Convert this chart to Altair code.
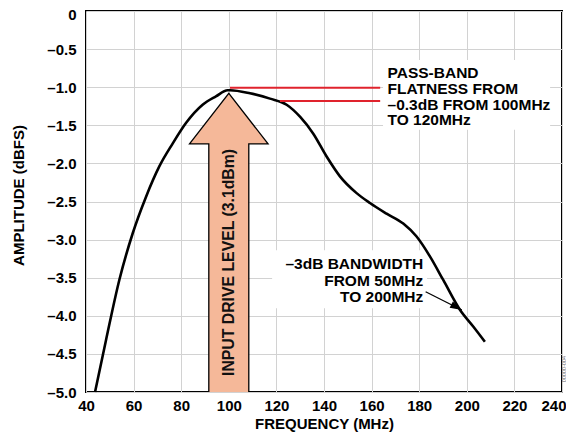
import altair as alt
import pandas as pd

# ---- data ----
freq_mhz = [43.8, 48.4, 54.0, 59.6, 65.2, 70.8, 76.4, 82.0, 89.0, 94.6, 99.5,
            100.5, 108.9, 117.3, 124.3, 130.0, 135.5, 141.1, 146.7, 153.7,
            159.3, 166.3, 173.3, 178.9, 184.5, 190.1, 197.1, 202.7, 207.6]
amplitude_dbfs = [-5.0, -4.32, -3.53, -2.92, -2.44, -2.04, -1.74, -1.47, -1.23,
                  -1.12, -1.04, -1.04, -1.08, -1.15, -1.23, -1.39, -1.61, -1.91,
                  -2.17, -2.39, -2.52, -2.66, -2.79, -2.96, -3.22, -3.53, -3.92,
                  -4.14, -4.34]

x_ticks = list(range(40, 241, 20))
y_ticks = [0, -0.5, -1.0, -1.5, -2.0, -2.5, -3.0, -3.5, -4.0, -4.5, -5.0]

passband_lines = ["PASS-BAND", "FLATNESS FROM", "–0.3dB FROM 100MHz", "TO 120MHz"]
passband_y = [-0.814, -1.021, -1.228, -1.436]
passband_x = 166.7

bandwidth_lines = ["–3dB BANDWIDTH", "FROM 50MHz", "TO 200MHz"]
bandwidth_y = [-3.326, -3.537, -3.748]
bandwidth_x = 181.7

# red leader lines (x start, x end, y)
red_x1 = [100.5, 121.5]
red_x2 = [163.6, 163.6]
red_y = [-1.007, -1.181]

# -3dB leader arrow (tail -> tip)
bw_arrow_x = [182.7, 197.9]
bw_arrow_y = [-3.684, -3.924]

# input drive level big arrow
shaft_x = [91.6, 108.4]
head_x = [83.5, 100.0, 116.5]
head_base = -1.745
head_tip = -1.08
arrow_label = "INPUT DRIVE LEVEL (3.1dBm)"

# white boxes behind annotation text
box_x1 = [164.8, 118.2]
box_x2 = [235.0, 183.3]
box_y1 = [-0.643, -3.14]
box_y2 = [-1.56, -3.90]

FONT = "Liberation Sans"
GRID = "#d2d2d2"
SALMON = "#f5b899"
RED = "#e0232d"

y_label_expr = "datum.value == 0 ? '0' : '–' + format(abs(datum.value), '.1f')"


def X(field):
    return alt.X(field, type="quantitative",
                 scale=alt.Scale(domain=[40, 240], nice=False, zero=False),
                 axis=alt.Axis(values=x_ticks, title="FREQUENCY (MHz)",
                               grid=True, gridColor=GRID, gridWidth=1,
                               ticks=False, domain=False, labelFlush=False,
                               labelAlign={"expr": "datum.value == 240 ? 'right' : 'center'"},
                               labelOffset={"expr": "datum.value == 240 ? 4 : 0"},
                               labelFont=FONT, labelFontSize=15,
                               labelFontWeight="bold", labelColor="black",
                               labelPadding=6, titleFont=FONT,
                               titleFontSize=15, titleFontWeight="bold",
                               titleColor="black", titlePadding=3))


def Y(field):
    return alt.Y(field, type="quantitative",
                 scale=alt.Scale(domain=[-5, 0], nice=False, zero=False),
                 axis=alt.Axis(values=y_ticks, title="AMPLITUDE (dBFS)",
                               labelExpr=y_label_expr,
                               labelOffset={"expr": "datum.value == 0 ? 3 : 0"},
                               grid=True, gridColor=GRID, gridWidth=1,
                               ticks=False, domain=False, labelFlush=False,
                               labelFont=FONT, labelFontSize=15,
                               labelFontWeight="bold", labelColor="black",
                               labelPadding=10, titleFont=FONT,
                               titleFontSize=15, titleFontWeight="bold",
                               titleColor="black", titlePadding=20,
                               titleY=184))


curve_df = pd.DataFrame({"f": freq_mhz, "a": amplitude_dbfs})
box_df = pd.DataFrame({"x1": box_x1, "x2": box_x2, "y1": box_y1, "y2": box_y2})
shaft_df = pd.DataFrame({"x1": [shaft_x[0]], "x2": [shaft_x[1]],
                         "y1": [-5.0], "y2": [head_base + 0.01]})
head_df = pd.DataFrame({"x": head_x, "y": [head_base, head_tip, head_base],
                        "y2": [head_base] * 3})
outline_df = pd.DataFrame({
    "x": [shaft_x[0], shaft_x[0], head_x[0], head_x[1], head_x[2], shaft_x[1], shaft_x[1]],
    "y": [-5.0, head_base, head_base, head_tip, head_base, head_base, -5.0],
    "o": list(range(7)),
})
red_df = pd.DataFrame({"x1": red_x1, "x2": red_x2, "y": red_y})
bwline_df = pd.DataFrame({"x1": [bw_arrow_x[0]], "x2": [bw_arrow_x[1]],
                          "y1": [bw_arrow_y[0]], "y2": [bw_arrow_y[1]]})
bwtip_df = pd.DataFrame({"x": [bw_arrow_x[1]], "y": [bw_arrow_y[1]]})
pass_df = pd.DataFrame({"t": passband_lines, "y": passband_y,
                        "x": [passband_x] * len(passband_lines)})
bw_df = pd.DataFrame({"t": bandwidth_lines, "y": bandwidth_y,
                      "x": [bandwidth_x] * len(bandwidth_lines)})
arrow_text_df = pd.DataFrame({"t": [arrow_label], "x": [100.0], "y": [-3.30]})

boxes = alt.Chart(box_df).mark_rect(color="white").encode(
    x=X("x1"), x2="x2", y=Y("y1"), y2="y2")

shaft = alt.Chart(shaft_df).mark_rect(color=SALMON).encode(
    x=X("x1"), x2="x2", y=Y("y1"), y2="y2")

head = alt.Chart(head_df).mark_area(color=SALMON, interpolate="linear").encode(
    x=X("x"), y=Y("y"), y2="y2")

outline = alt.Chart(outline_df).mark_line(color="black", strokeWidth=1.3).encode(
    x=X("x"), y=Y("y"), order="o:Q")

arrow_text = alt.Chart(arrow_text_df).mark_text(
    angle=270, font=FONT, fontSize=15.8, fontWeight="bold", color="#111",
    align="center", baseline="middle").encode(x=X("x"), y=Y("y"), text="t:N")

curve = alt.Chart(curve_df).mark_line(
    color="black", strokeWidth=2.6, interpolate="monotone").encode(
    x=X("f"), y=Y("a"))

red = alt.Chart(red_df).mark_rule(color=RED, strokeWidth=1.8).encode(
    x=X("x1"), x2="x2", y=Y("y"))

bwline = alt.Chart(bwline_df).mark_rule(color="black", strokeWidth=1.3).encode(
    x=X("x1"), x2="x2", y=Y("y1"), y2="y2")

bwtip = alt.Chart(bwtip_df).mark_point(
    shape="M0,0L0.3,1L-0.3,1Z", filled=True, color="black", opacity=1,
    size=560, angle=117, strokeWidth=0).encode(x=X("x"), y=Y("y"))

pass_text = alt.Chart(pass_df).mark_text(
    align="left", baseline="middle", font=FONT, fontSize=15.5,
    fontWeight="bold", color="black").encode(x=X("x"), y=Y("y"), text="t:N")

bw_text = alt.Chart(bw_df).mark_text(
    align="right", baseline="middle", font=FONT, fontSize=15.5,
    fontWeight="bold", color="black").encode(x=X("x"), y=Y("y"), text="t:N")

code_text = alt.Chart(pd.DataFrame({"t": ["00000-004"]})).mark_text(
    angle=270, font=FONT, fontSize=5.5, color="#666", align="center",
    baseline="middle").encode(x=alt.value(477.5), y=alt.value(358), text="t:N")

chart = alt.layer(
    boxes, shaft, head, outline, arrow_text, curve, red, bwline, bwtip,
    pass_text, bw_text, code_text
).properties(
    width=476, height=381,
    autosize=alt.AutoSizeParams(type="none"),
    padding={"left": 78, "top": 3, "right": 4, "bottom": 41},
).configure_view(stroke="black", strokeWidth=2)

chart.save("out.html", embed_options={"renderer": "svg", "actions": False})
